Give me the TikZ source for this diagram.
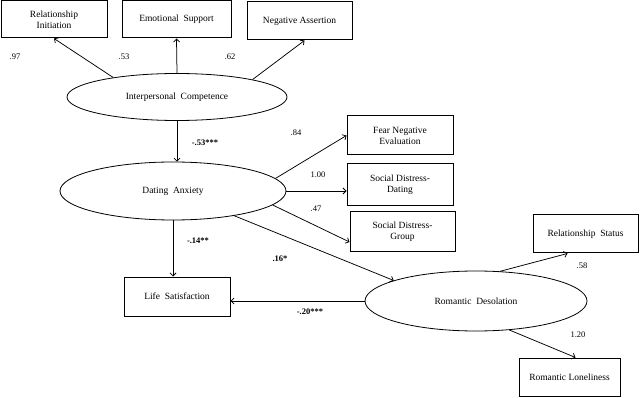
\documentclass[tikz,border=0pt]{standalone}
\usepackage{fontspec}
\setmainfont{Liberation Serif}
\usetikzlibrary{shapes.geometric,arrows.meta}
\begin{document}
\begin{tikzpicture}[x=1pt, y=-1pt,
    font=\fontsize{9.5}{11}\selectfont,
    obs/.style={draw, line width=1pt, rectangle, align=center, inner sep=1pt},
    lat/.style={draw, line width=0.8pt, ellipse, inner sep=1pt},
    path/.style={->, line width=0.75pt},
    est/.style={font=\fontsize{8.5}{10}\selectfont, inner sep=0pt},
    sig/.style={font=\fontsize{8.5}{10}\selectfont\bfseries, inner sep=0pt},
    >={Straight Barb[length=3pt,width=6pt]}]
    \useasboundingbox[fill=white] (0,0) rectangle (640,398);
    % 観測変数
    \node[obs, minimum width=106pt, minimum height=37pt] (ri) at (54,19.5) {Relationship\\Initiation};
    \node[obs, minimum width=109pt, minimum height=37pt] (es) at (176.5,19.5) {Emotional\ \ Support};
    \node[obs, minimum width=105pt, minimum height=38pt] (na) at (299.5,21) {Negative Assertion};
    \node[obs, minimum width=106pt, minimum height=39pt] (fne) at (400,135.5) {Fear Negative\\Evaluation};
    \node[obs, minimum width=106pt, minimum height=42pt] (sdd) at (400,185) {Social Distress-\\Dating};
    \node[obs, minimum width=105pt, minimum height=40pt] (sdg) at (402.5,232) {Social Distress-\\Group};
    \node[obs, minimum width=106pt, minimum height=39pt] (ls) at (177,296.5) {Life\ \ Satisfaction};
    \node[obs, minimum width=105pt, minimum height=38pt] (rs) at (585.5,234) {Relationship\ \ Status};
    \node[obs, minimum width=101pt, minimum height=38pt] (rl) at (569.5,377) {Romantic Loneliness};
    % 潜在変数
    \node[lat, minimum width=220pt, minimum height=47pt] (ic) at (177,97) {Interpersonal\ \ Competence};
    \node[lat, minimum width=226pt, minimum height=58pt] (da) at (173,191) {Dating\ \ Anxiety};
    \node[lat, minimum width=222pt, minimum height=60pt] (rd) at (476,301) {Romantic\ \ Desolation};
    % 測定モデル
    \draw[path] (ic.163) -- (ri.south);
    \draw[path] (ic.north) -- (es.south);
    \draw[path] (ic.13) -- ([xshift=5pt]na.south);
    \draw[path] (da.7) -- (fne.west);
    \draw[path] (da.east) -- (da.east -| sdd.west);
    \draw[path] (da.-8) -- ([yshift=-10pt]sdg.west);
    \draw[path] (rd.51) -- ([xshift=-18pt]rs.south);
    \draw[path] (rd.-41) -- ([xshift=6pt]rl.north);
    % 構造モデル
    \draw[path] (ic.south) -- (ic.south |- da.north);
    \draw[path] (da.south) -- (da.south |- ls.north);
    \draw[path] (da.-22) -- (rd.166);
    \draw[path] (rd.west) -- (rd.west -| ls.east);
    % 係数
    \node[est] (e-ri) at (15,57) {.97};
    \node[est] (e-es) at (124,57) {.53};
    \node[est] (e-na) at (230,57) {.62};
    \node[est] (e-fne) at (296,133) {.84};
    \node[est] (e-sdd) at (318,175) {1.00};
    \node[est] (e-sdg) at (316,209) {.47};
    \node[est] (e-rs) at (582,266) {.58};
    \node[est] (e-rl) at (578,335) {1.20};
    \node[sig] (b-icda) at (205,143) {-.53***};
    \node[sig] (b-dals) at (198,241) {-.14**};
    \node[sig] (b-dard) at (280,259) {.16*};
    \node[sig] (b-rdls) at (310,312) {-.20***};
\end{tikzpicture}
\end{document}
